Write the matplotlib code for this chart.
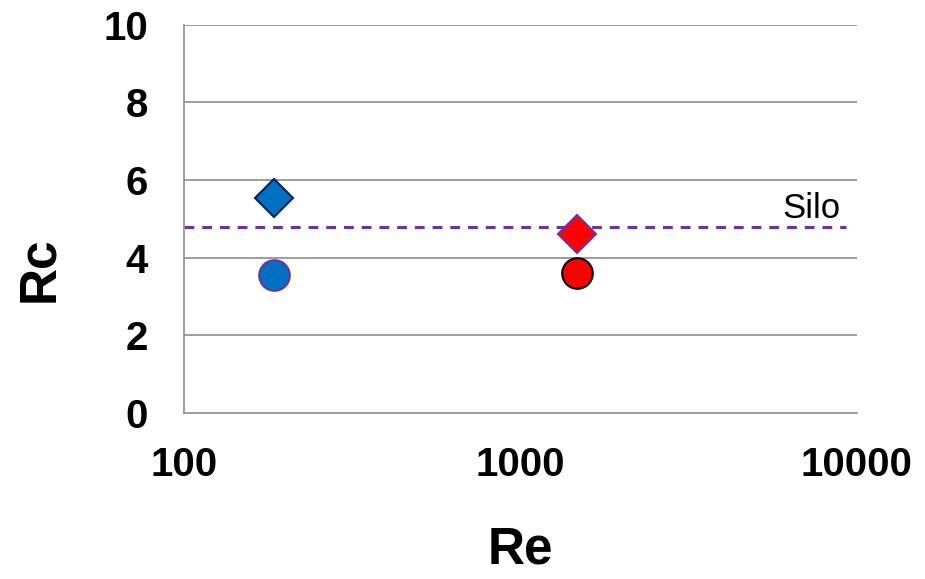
import matplotlib
matplotlib.use("Agg")
import matplotlib.pyplot as plt

# data
re_blue = [185]
rc_blue_diamond = [5.55]
rc_blue_circle = [3.55]
re_red = [1470]
rc_red_diamond = [4.6]
rc_red_circle = [3.6]
silo_rc = 4.8
x_ticks = [100, 1000, 10000]
x_labels = ["100", "1000", "10000"]
y_ticks = [0, 2, 4, 6, 8, 10]

plt.rcParams['font.family'] = ['Liberation Sans', 'DejaVu Sans']

fig = plt.figure(figsize=(9.25, 5.79), dpi=100)
ax = fig.add_axes([0.199, 0.287, 0.727, 0.670])

ax.set_xscale('log')
ax.set_xlim(100, 10000)
ax.set_ylim(0, 10)

for y in y_ticks[1:]:
    ax.axhline(y, color='#8c8c8c', linewidth=1.2, zorder=1)

ax.axhline(silo_rc, xmin=0.0, xmax=0.985, color='#7030A0', linestyle=(0, (3.2, 2.6)),
           linewidth=2.2, zorder=2)
ax.text(7350, silo_rc + 0.23, "Silo", fontsize=25, ha='center', va='baseline')

ax.plot(re_blue, rc_blue_diamond, 'D', markersize=19, markerfacecolor='#0070C0',
        markeredgecolor='#002060', markeredgewidth=1.5, zorder=3)
ax.plot(re_blue, rc_blue_circle, 'o', markersize=22, markerfacecolor='#0070C0',
        markeredgecolor='#7030A0', markeredgewidth=1.5, zorder=3)
ax.plot(re_red, rc_red_diamond, 'D', markersize=19, markerfacecolor='#FF0000',
        markeredgecolor='#7030A0', markeredgewidth=1.5, zorder=3)
ax.plot(re_red, rc_red_circle, 'o', markersize=22, markerfacecolor='#FF0000',
        markeredgecolor='black', markeredgewidth=1.5, zorder=3)

ax.set_xticks(x_ticks)
ax.set_xticklabels(x_labels)
ax.minorticks_off()
ax.set_yticks(y_ticks)
ax.tick_params(axis='both', length=0, labelsize=29)
ax.tick_params(axis='x', pad=24)
ax.tick_params(axis='y', pad=26)
for lab in ax.get_xticklabels() + ax.get_yticklabels():
    lab.set_fontweight('bold')

for s in ['top', 'right']:
    ax.spines[s].set_visible(False)
ax.spines['left'].set_color('#8c8c8c')
ax.spines['bottom'].set_color('#8c8c8c')
ax.spines['left'].set_linewidth(1.2)
ax.spines['bottom'].set_linewidth(1.2)

ax.set_xlabel("Re", fontsize=37, fontweight='bold')
ax.xaxis.set_label_coords(0.5, -0.290)
ax.set_ylabel("Rc", fontsize=37, fontweight='bold')
ax.yaxis.set_label_coords(-0.178, 0.369)

fig.savefig("out.png", dpi=100)
